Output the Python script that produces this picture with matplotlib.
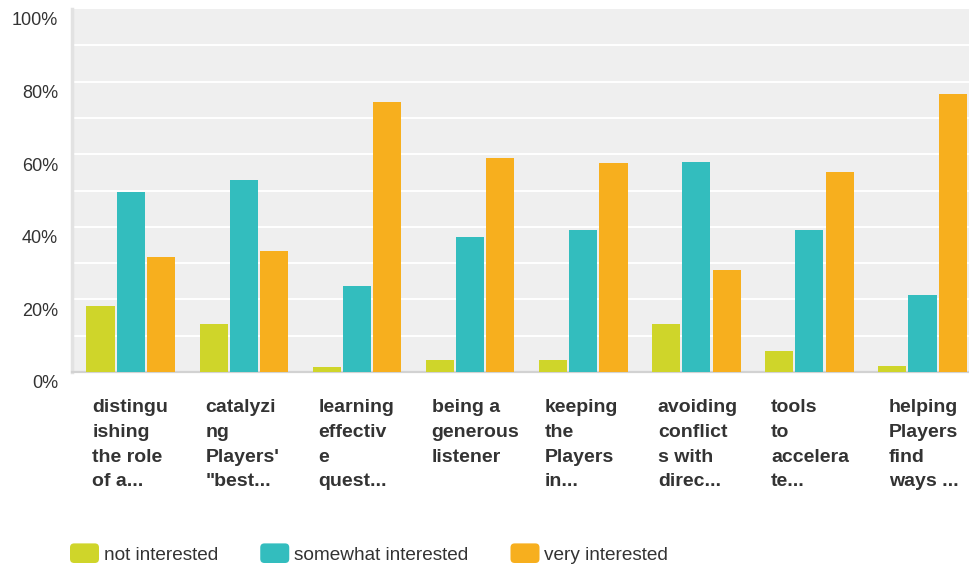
import matplotlib
matplotlib.use("Agg")
import matplotlib.pyplot as plt
import numpy as np
from matplotlib.patches import Patch, FancyBboxPatch
from matplotlib.legend_handler import HandlerPatch
import matplotlib.transforms as mtransforms

plt.rcParams['font.family'] = ['Liberation Sans', 'DejaVu Sans']

categories = [
    "distingu\nishing\nthe role\nof a...",
    "catalyzi\nng\nPlayers'\n\"best...",
    "learning\neffectiv\ne\nquest...",
    "being a\ngenerous\nlistener",
    "keeping\nthe\nPlayers\nin...",
    "avoiding\nconflict\ns with\ndirec...",
    "tools\nto\naccelera\nte...",
    "helping\nPlayers\nfind\nways ...",
]
series_names = ["not interested", "somewhat interested", "very interested"]
not_interested = [18.2, 13.2, 1.3, 3.2, 3.2, 13.2, 5.7, 1.6]
somewhat_interested = [49.5, 52.8, 23.7, 37.3, 39.0, 57.8, 39.0, 21.2]
very_interested = [31.8, 33.4, 74.4, 58.9, 57.5, 28.2, 55.0, 76.6]
y_ticks = [0, 20, 40, 60, 80, 100]
y_tick_labels = ["0%", "20%", "40%", "60%", "80%", "100%"]

colors = ["#cfd52a", "#33bdbe", "#f7af1e"]
text_color = "#333333"

W, H = 969, 565
fig = plt.figure(figsize=(W / 100, H / 100), dpi=100)
ax = fig.add_axes([72 / W, (H - 372) / H, (W - 72) / W, 363 / H])
ax.set_facecolor("#efefef")

x = np.arange(len(categories)) + 0.02
bw = 0.248
step = 0.268
for k, vals in enumerate([not_interested, somewhat_interested, very_interested]):
    ax.bar(x + (k - 1) * step, vals, width=bw, color=colors[k], zorder=3,
           linewidth=0)

ax.set_xlim(-0.5, -0.5 + (W - 72) / 113.1)
ax.set_ylim(0, 100)

# gridlines every 10 %
for g in range(10, 100, 10):
    ax.axhline(g, color="white", lw=1.4, zorder=1)

ax.set_xticks([])
ax.set_yticks([])
for s in ["top", "right"]:
    ax.spines[s].set_visible(False)
ax.spines["left"].set_color("#e2e2e2")
ax.spines["left"].set_linewidth(2.5)
ax.spines["bottom"].set_color("#d2d2d2")
ax.spines["bottom"].set_linewidth(1.6)

# y tick labels, hanging just below their gridline
trans_y = mtransforms.blended_transform_factory(fig.transFigure, ax.transData)
off = mtransforms.ScaledTranslation(0, -2.5 / 72, fig.dpi_scale_trans)
for v, lab in zip(y_ticks, y_tick_labels):
    fig.text(58 / W, v, lab, transform=trans_y + off, ha="right", va="top",
             fontsize=13, color=text_color)

# category labels under each group
trans_x = mtransforms.blended_transform_factory(ax.transData, fig.transFigure)
for i, (xi, lab) in enumerate(zip(x, categories)):
    shift = 0.04 if i == len(categories) - 1 else 0.0
    fig.text(xi - 0.34 + shift, (H - 399) / H, lab, transform=trans_x,
             ha="left", va="top", fontsize=14, fontweight="bold",
             color=text_color, linespacing=1.6)


class RoundedHandler(HandlerPatch):
    def create_artists(self, legend, orig_handle, xdescent, ydescent, width,
                       height, fontsize, trans):
        p = FancyBboxPatch((-xdescent, -ydescent), width, height,
                           boxstyle="round,pad=0,rounding_size=3",
                           facecolor=orig_handle.get_facecolor(),
                           edgecolor="none", transform=trans)
        return [p]


handles = [Patch(facecolor=c, label=n) for c, n in zip(colors, series_names)]
fs = 13.7
fspx = fs * 100 / 72
leg = fig.legend(handles=handles, loc="center left",
                 bbox_to_anchor=(70 / W, 11.5 / H), ncol=3, frameon=False,
                 fontsize=fs, handlelength=29 / fspx, handleheight=23 / fspx,
                 handletextpad=5 / fspx, columnspacing=42 / fspx,
                 borderpad=0, borderaxespad=0,
                 handler_map={Patch: RoundedHandler()})
for t in leg.get_texts():
    t.set_color(text_color)

fig.savefig("out.png", dpi=100)
